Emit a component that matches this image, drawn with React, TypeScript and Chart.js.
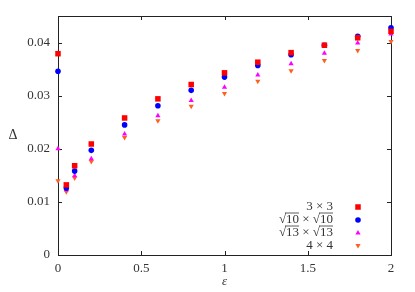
import React, { useEffect, useRef } from "react";
import { Chart, registerables } from "chart.js";
import { drawPoint } from "chart.js/helpers";

Chart.register(...registerables);

const epsilon = [0, 0.05, 0.1, 0.2, 0.4, 0.6, 0.8, 1.0, 1.2, 1.4, 1.6, 1.8, 2.0];
const delta3x3 = [0.0379, 0.0132, 0.0168, 0.0209, 0.0258, 0.0294, 0.0321, 0.0343, 0.0363, 0.0381, 0.0395, 0.0409, 0.0421];
const deltaSqrt10 = [0.0346, 0.0126, 0.0158, 0.0197, 0.0245, 0.0281, 0.031, 0.0335, 0.0357, 0.0377, 0.0395, 0.0412, 0.0428];
const deltaSqrt13 = [0.02, 0.0123, 0.0149, 0.0181, 0.0228, 0.0262, 0.0291, 0.0316, 0.0339, 0.036, 0.038, 0.0399, 0.0416];
const delta4x4 = [0.014, 0.0119, 0.0145, 0.0176, 0.0221, 0.0253, 0.028, 0.0304, 0.0327, 0.0347, 0.0366, 0.0385, 0.0402];

const seriesLabels = ["3 × 3", "√10 × √10", "√13 × √13", "4 × 4"];
const xTicks = [0, 0.5, 1, 1.5, 2];
const yTicks = [0, 0.01, 0.02, 0.03, 0.04];

const FONT = "'Liberation Serif', 'DejaVu Serif', serif";
const TEXT = "#333333";

function drawLabel(ctx: CanvasRenderingContext2D, label: string, rightX: number, y: number) {
  const tokens: { t: string; over: boolean }[] = [];
  let i = 0;
  while (i < label.length) {
    if (label[i] === "√") {
      tokens.push({ t: "√", over: false });
      i++;
      let d = "";
      while (i < label.length && /[0-9]/.test(label[i])) {
        d += label[i];
        i++;
      }
      tokens.push({ t: d, over: true });
    } else {
      let s = "";
      while (i < label.length && label[i] !== "√") {
        s += label[i];
        i++;
      }
      tokens.push({ t: s, over: false });
    }
  }
  const total = tokens.reduce((a, tk) => a + ctx.measureText(tk.t).width, 0);
  let x = rightX - total;
  ctx.textAlign = "left";
  ctx.textBaseline = "middle";
  for (const tk of tokens) {
    const w = ctx.measureText(tk.t).width;
    ctx.fillText(tk.t, x, y);
    if (tk.over) {
      ctx.beginPath();
      ctx.strokeStyle = TEXT;
      ctx.lineWidth = 0.8;
      ctx.moveTo(x - 1, y - 7);
      ctx.lineTo(x + w, y - 7);
      ctx.stroke();
    }
    x += w;
  }
}

const framePlugin = {
  id: "frame",
  beforeDatasetsDraw(chart: any) {
    const { ctx, chartArea } = chart;
    const { left, right, top, bottom } = chartArea;
    const xs = chart.scales.x;
    const ys = chart.scales.y;
    ctx.save();
    ctx.strokeStyle = "#222";
    ctx.lineWidth = 1;
    ctx.strokeRect(left + 0.5, top + 0.5, right - left, bottom - top);
    const tl = 4;
    ctx.beginPath();
    for (const v of xTicks) {
      const px = Math.round(xs.getPixelForValue(v)) + 0.5;
      ctx.moveTo(px, bottom);
      ctx.lineTo(px, bottom - tl);
      ctx.moveTo(px, top);
      ctx.lineTo(px, top + tl);
    }
    for (const v of yTicks) {
      const py = Math.round(ys.getPixelForValue(v)) + 0.5;
      ctx.moveTo(left, py);
      ctx.lineTo(left + tl, py);
      ctx.moveTo(right, py);
      ctx.lineTo(right - tl, py);
    }
    ctx.stroke();

    ctx.fillStyle = TEXT;
    ctx.font = `italic 13px ${FONT}`;
    ctx.textAlign = "center";
    ctx.textBaseline = "middle";
    ctx.fillText("ε", (left + right) / 2, 282);
    ctx.font = `14px ${FONT}`;
    ctx.fillText("Δ", 13, (top + bottom) / 2);
    ctx.restore();
  },
  afterDraw(chart: any) {
    const { ctx } = chart;
    ctx.save();
    ctx.font = `13px ${FONT}`;
    const rowY = [207, 220, 233, 245.5];
    chart.data.datasets.forEach((ds: any, k: number) => {
      ctx.fillStyle = TEXT;
      drawLabel(ctx, seriesLabels[k], 333, rowY[k]);
      ctx.fillStyle = ds.backgroundColor;
      ctx.strokeStyle = ds.borderColor;
      ctx.lineWidth = 0;
      drawPoint(ctx, { pointStyle: ds.pointStyle, radius: ds.pointRadius, rotation: ds.rotation || 0, borderWidth: 0 }, 358, rowY[k]);
    });
    ctx.restore();
  },
};

export default function App() {
  const ref = useRef<HTMLCanvasElement>(null);
  useEffect(() => {
    document.body.style.margin = "0";
    const mk = (data: number[]) => epsilon.map((x, i) => ({ x, y: data[i] }));
    const chart = new Chart(ref.current!, {
      type: "scatter",
      data: {
        datasets: [
          { label: seriesLabels[0], data: mk(delta3x3), pointStyle: "rect", pointRadius: 3.9, backgroundColor: "#ff0000", borderColor: "#ff0000", borderWidth: 0, clip: false } as any,
          { label: seriesLabels[1], data: mk(deltaSqrt10), pointStyle: "circle", pointRadius: 2.8, backgroundColor: "#0000ff", borderColor: "#0000ff", borderWidth: 0, clip: false } as any,
          { label: seriesLabels[2], data: mk(deltaSqrt13), pointStyle: "triangle", pointRadius: 3, backgroundColor: "#ff00ff", borderColor: "#ff00ff", borderWidth: 0, clip: false } as any,
          { label: seriesLabels[3], data: mk(delta4x4), pointStyle: "triangle", rotation: 180, pointRadius: 3, backgroundColor: "#ff6020", borderColor: "#ff6020", borderWidth: 0, clip: false } as any,
        ],
      },
      options: {
        animation: false,
        responsive: false,
        layout: { padding: { top: 16, right: 24, left: 0, bottom: 0 } },
        plugins: { legend: { display: false }, tooltip: { enabled: false } },
        elements: { point: { hoverRadius: 3 } },
        scales: {
          x: {
            type: "linear",
            min: 0,
            max: 2,
            grid: { display: false, drawTicks: false },
            border: { display: false },
            afterFit: (s: any) => { s.height = 37; },
            afterBuildTicks: (s: any) => { s.ticks = xTicks.map((v) => ({ value: v })); },
            ticks: {
              padding: 6,
              color: TEXT,
              font: { family: FONT, size: 13 },
              callback: (v: any) => String(v),
            },
          },
          y: {
            type: "linear",
            min: 0,
            max: 0.045,
            grid: { display: false, drawTicks: false },
            border: { display: false },
            afterFit: (s: any) => { s.width = 58; },
            afterBuildTicks: (s: any) => { s.ticks = yTicks.map((v) => ({ value: v })); },
            ticks: {
              padding: 8,
              color: TEXT,
              font: { family: FONT, size: 13 },
              callback: (v: any) => String(Number(Number(v).toFixed(2))),
            },
          },
        },
      },
      plugins: [framePlugin],
    });
    return () => chart.destroy();
  }, []);
  return (
    <div style={{ width: 415, height: 292 }}>
      <canvas ref={ref} width={415} height={292} />
    </div>
  );
}
